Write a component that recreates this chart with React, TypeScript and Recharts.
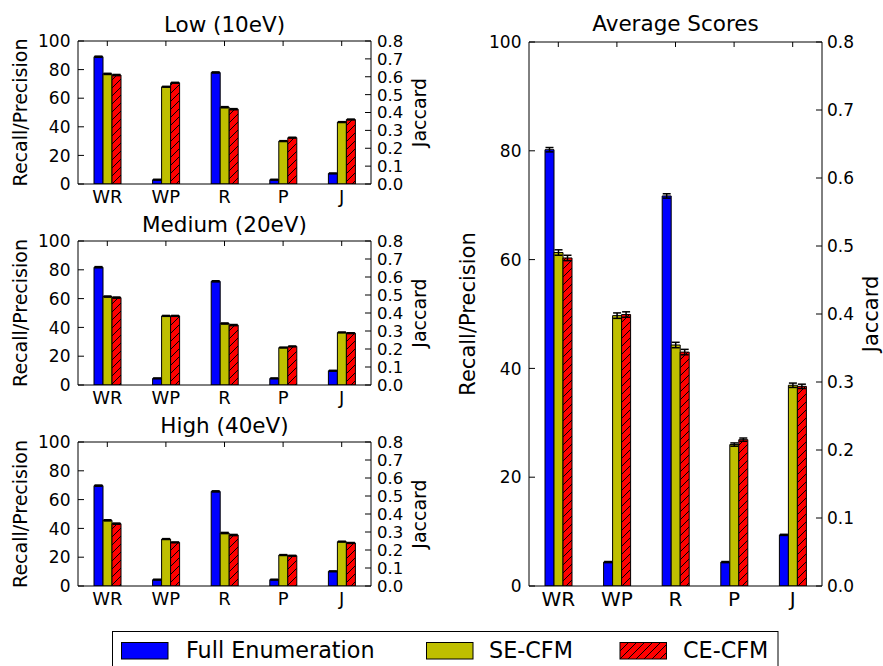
import { BarChart, Bar, XAxis, YAxis, ErrorBar } from "recharts";

const categories = ["WR", "WP", "R", "P", "J"];

// Low (10eV)
const lowFull = [89, 3, 78, 3, 7.4];
const lowSe = [77, 68, 53.7, 30, 43.3];
const lowCe = [76.2, 70.8, 52.3, 32.4, 45.1];

// Medium (20eV)
const medFull = [81.8, 4.6, 72, 4.6, 9.9];
const medSe = [61.4, 48, 42.7, 26, 36.5];
const medCe = [60.7, 48, 41.6, 26.8, 36];

// High (40eV)
const highFull = [69.7, 4.4, 65.7, 4.4, 10.2];
const highSe = [45.6, 32.6, 36.8, 21.5, 30.8];
const highCe = [43.3, 30.3, 35.4, 21, 29.9];

// Average over the three energies
const avgFull = [80.2, 4.4, 71.7, 4.4, 9.4];
const avgSe = [61.3, 49.7, 44.3, 26.0, 36.9];
const avgCe = [60.3, 49.9, 43.0, 26.9, 36.7];

// standard errors
const smallErr = [0.4, 0.3, 0.4, 0.3, 0.3];
const avgFullErr = [0.4, 0.1, 0.4, 0.1, 0.1];
const avgSeErr = [0.5, 0.5, 0.5, 0.3, 0.4];
const avgCeErr = [0.5, 0.5, 0.5, 0.3, 0.4];

const scoreTicks = [0, 20, 40, 60, 80, 100];
const jaccardTicks = [0, 0.1, 0.2, 0.3, 0.4, 0.5, 0.6, 0.7, 0.8];

const seriesNames = ["Full Enumeration", "SE-CFM", "CE-CFM"];
const BLUE = "#0000ff";
const YELLOW = "#bfbf00";
const RED = "#ff0000";
const FONT = "'DejaVu Sans', sans-serif";

function buildRows(
  full: number[],
  se: number[],
  ce: number[],
  fullErr: number[],
  seErr: number[],
  ceErr: number[]
) {
  return categories.map((cat, i) => ({
    cat,
    full: full[i],
    se: se[i],
    ce: ce[i],
    fullErr: fullErr[i],
    seErr: seErr[i],
    ceErr: ceErr[i],
  }));
}

type Row = ReturnType<typeof buildRows>[number];

type PanelProps = {
  id: string;
  title: string;
  data: Row[];
  left: number;
  top: number;
  width: number;
  plotHeight: number;
  marginTop: number;
  leftWidth: number;
  rightWidth: number;
  big?: boolean;
};

function HatchDefs({ id }: { id: string }) {
  return (
    <defs>
      <pattern id={id} patternUnits="userSpaceOnUse" width={8} height={8}>
        <rect width={8} height={8} fill={RED} />
        <path d="M-1,1 l2,-2 M0,8 l8,-8 M7,9 l2,-2" stroke="#000" strokeWidth={1} />
      </pattern>
    </defs>
  );
}

// matplotlib-style ticks: short marks pointing into the plot, label outside
function leftTick(spine: number, fontSize: number, gap: number) {
  return (props: any) => (
    <g>
      <line x1={spine} x2={spine + 6} y1={props.y} y2={props.y} stroke="#000" />
      <text x={spine - gap} y={props.y} dy="0.36em" textAnchor="end" fontSize={fontSize} fill="#000">
        {props.payload.value}
      </text>
    </g>
  );
}

function rightTick(spine: number, fontSize: number, gap: number) {
  return (props: any) => (
    <g>
      <line x1={spine} x2={spine - 6} y1={props.y} y2={props.y} stroke="#000" />
      <text x={spine + gap} y={props.y} dy="0.36em" textAnchor="start" fontSize={fontSize} fill="#000">
        {Number(props.payload.value).toFixed(1)}
      </text>
    </g>
  );
}

function topTick(plotTop: number) {
  return (props: any) => (
    <line x1={props.x} x2={props.x} y1={plotTop} y2={plotTop + 5} stroke="#000" />
  );
}

function Panel(p: PanelProps) {
  const tickFont = 17;
  const labelFont = p.big ? 21 : 19;
  const xFont = p.big ? 20 : 18;
  const hatchId = `hatch-${p.id}`;
  const height = p.marginTop + p.plotHeight + 30;
  const plotLeft = p.leftWidth;
  const plotRight = p.width - p.rightWidth;
  return (
    <div style={{ position: "absolute", left: p.left, top: p.top }}>
      <BarChart
        width={p.width}
        height={height}
        data={p.data}
        margin={{ top: p.marginTop - 1, right: 0, bottom: 0, left: 0 }}
        barGap={0}
        barSize={9}
      >
        <HatchDefs id={hatchId} />
        <text
          x={(plotLeft + plotRight) / 2}
          y={p.big ? 31 : 31.5}
          textAnchor="middle"
          fontSize={21.5}
          fill="#000"
        >
          {p.title}
        </text>
        <XAxis
          dataKey="cat"
          height={30}
          tickLine={false}
          tickSize={0}
          tickMargin={6}
          interval={0}
          axisLine={{ stroke: "#000" }}
          tick={{ fontSize: xFont, fill: "#000" }}
        />
        <XAxis
          xAxisId="top"
          dataKey="cat"
          orientation="top"
          height={1}
          interval={0}
          tickLine={false}
          tick={topTick(p.marginTop)}
          axisLine={{ stroke: "#000" }}
        />
        <YAxis
          yAxisId="left"
          width={p.leftWidth}
          domain={[0, 100]}
          ticks={scoreTicks}
          interval={0}
          allowDataOverflow
          tickLine={false}
          axisLine={{ stroke: "#000" }}
          tick={leftTick(plotLeft, tickFont, 7.5)}
          label={{
            value: "Recall/Precision",
            angle: -90,
            position: "insideLeft",
            offset: p.big ? 28 : 20,
            fontSize: labelFont,
            fill: "#000",
            style: { textAnchor: "middle" },
          }}
        />
        <YAxis
          yAxisId="right"
          orientation="right"
          type="number"
          width={p.rightWidth}
          domain={[0, 0.8]}
          ticks={jaccardTicks}
          interval={0}
          allowDataOverflow
          tickLine={false}
          axisLine={{ stroke: "#000" }}
          tick={rightTick(plotRight, p.big ? tickFont : 16.5, p.big ? 5 : 6)}
          label={{
            value: "Jaccard",
            angle: -90,
            position: "insideRight",
            offset: p.big ? 12 : 21,
            fontSize: labelFont,
            fill: "#000",
            style: { textAnchor: "middle" },
          }}
        />
        <Bar yAxisId="left" dataKey="full" name={seriesNames[0]} fill={BLUE} stroke="#000" strokeWidth={1} isAnimationActive={false}>
          <ErrorBar dataKey="fullErr" direction="y" width={4} stroke="#000" strokeWidth={1.5} />
        </Bar>
        <Bar yAxisId="left" dataKey="se" name={seriesNames[1]} fill={YELLOW} stroke="#000" strokeWidth={1} isAnimationActive={false}>
          <ErrorBar dataKey="seErr" direction="y" width={4} stroke="#000" strokeWidth={1.5} />
        </Bar>
        <Bar yAxisId="left" dataKey="ce" name={seriesNames[2]} fill={`url(#${hatchId})`} stroke="#000" strokeWidth={1} isAnimationActive={false}>
          <ErrorBar dataKey="ceErr" direction="y" width={4} stroke="#000" strokeWidth={1.5} />
        </Bar>
      </BarChart>
    </div>
  );
}

function LegendBox() {
  const items = [
    { name: seriesNames[0], fill: BLUE, patch: 121.5, text: 186 },
    { name: seriesNames[1], fill: YELLOW, patch: 426.5, text: 489 },
    { name: seriesNames[2], fill: "url(#hatch-legend)", patch: 620, text: 683 },
  ];
  return (
    <svg
      width={883}
      height={35}
      style={{ position: "absolute", left: 0, top: 631 }}
    >
      <HatchDefs id="hatch-legend" />
      <rect x={112.5} y={0.5} width={665.5} height={50} fill="#fff" stroke="#000" strokeWidth={1} />
      {items.map((it) => (
        <g key={it.name}>
          <rect x={it.patch} y={11.5} width={46.5} height={16.5} fill={it.fill} stroke="#000" strokeWidth={1} />
          <text x={it.text} y={27} fontSize={22.3} fill="#000">
            {it.name}
          </text>
        </g>
      ))}
    </svg>
  );
}

const lowRows = buildRows(lowFull, lowSe, lowCe, smallErr, smallErr, smallErr);
const medRows = buildRows(medFull, medSe, medCe, smallErr, smallErr, smallErr);
const highRows = buildRows(highFull, highSe, highCe, smallErr, smallErr, smallErr);
const avgRows = buildRows(avgFull, avgSe, avgCe, avgFullErr, avgSeErr, avgCeErr);

export default function App() {
  return (
    <div
      style={{
        position: "absolute",
        left: 0,
        top: 0,
        width: 883,
        height: 666,
        overflow: "hidden",
        background: "#fff",
        fontFamily: FONT,
      }}
    >
      <Panel id="low" title="Low (10eV)" data={lowRows} left={0} top={0} width={440} plotHeight={143} marginTop={41} leftWidth={78} rightWidth={69} />
      <Panel id="med" title="Medium (20eV)" data={medRows} left={0} top={200} width={440} plotHeight={144} marginTop={41} leftWidth={78} rightWidth={69} />
      <Panel id="high" title="High (40eV)" data={highRows} left={0} top={401} width={440} plotHeight={144} marginTop={41} leftWidth={78} rightWidth={69} />
      <Panel id="avg" title="Average Scores" data={avgRows} left={440} top={0} width={443} plotHeight={544} marginTop={42} leftWidth={89} rightWidth={61} big />
      <LegendBox />
    </div>
  );
}
